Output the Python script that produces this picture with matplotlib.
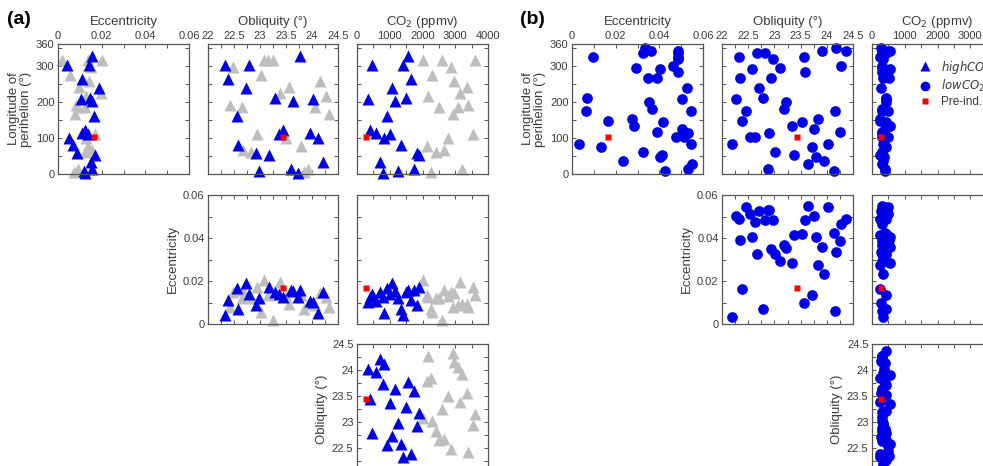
import numpy as np
import matplotlib
matplotlib.use('Agg')
import matplotlib.pyplot as plt
from matplotlib.lines import Line2D
from matplotlib.ticker import FixedLocator, MultipleLocator

plt.rcParams['font.family'] = ['Liberation Sans', 'DejaVu Sans']

# ===== Panel (a): highCO2 ensemble, blue = CO2 below ~1900 ppmv, grey = above =====
a_blue_lon = [207, 121, 301, 114, 32, 2, 100, 161, 112, 239,
              201, 8, 80, 301, 210, 327, 263, 15, 59, 52]
a_blue_ecc = [0.0104, 0.0124, 0.0140, 0.0109, 0.0149, 0.0124, 0.0050, 0.0166, 0.0138, 0.0189,
              0.0155, 0.0119, 0.0070, 0.0042, 0.0147, 0.0157, 0.0112, 0.0158, 0.0088, 0.0171]
a_blue_obl = [24.02, 23.44, 22.79, 23.96, 24.21, 23.73, 24.11, 22.55, 23.36, 22.73,
              23.64, 22.98, 22.58, 22.32, 23.29, 23.76, 22.38, 23.60, 22.92, 23.18]
a_blue_co2 = [327, 408, 459, 582, 694, 796, 827, 929, 1020, 1082,
              1163, 1255, 1347, 1398, 1510, 1551, 1663, 1735, 1837, 1888]

a_grey_lon = [317, 78, 215, 5, 275, 62, 185, 315, 66, 101,
              297, 166, 258, 185, 223, 14, 242, 192, 111, 317]
a_grey_ecc = [0.0203, 0.0137, 0.0127, 0.0072, 0.0056, 0.0122, 0.0122, 0.0020, 0.0157, 0.0130,
              0.0150, 0.0078, 0.0142, 0.0090, 0.0195, 0.0092, 0.0095, 0.0081, 0.0170, 0.0137]
a_grey_obl = [23.08, 23.79, 24.27, 23.84, 23.02, 22.82, 22.65, 23.25, 22.67, 23.50,
              22.49, 24.33, 24.15, 24.05, 23.38, 23.92, 23.55, 22.42, 22.95, 23.15]
a_grey_co2 = [2000, 2133, 2174, 2256, 2277, 2410, 2513, 2585, 2653, 2769,
              2872, 2923, 2974, 3077, 3159, 3200, 3364, 3385, 3538, 3610]

# ===== Panel (b): lowCO2 ensemble =====
b_lon = [84, 207, 325, 266, 147, 174, 102, 291, 102, 335,
         239, 210, 336, 15, 114, 267, 319, 60, 294, 180,
         200, 132, 52, 145, 325, 283, 28, 74, 125, 48,
         152, 342, 37, 82, 7, 174, 349, 117, 300, 342]
b_ecc = [0.0033, 0.0502, 0.0487, 0.0391, 0.0164, 0.0543, 0.0512, 0.0403, 0.0476, 0.0326,
         0.0527, 0.0068, 0.0484, 0.0532, 0.0532, 0.0347, 0.0484, 0.0326, 0.0293, 0.0367,
         0.0352, 0.0282, 0.0414, 0.0419, 0.0096, 0.0484, 0.0549, 0.0135, 0.0504, 0.0403,
         0.0274, 0.0360, 0.0233, 0.0543, 0.0425, 0.0062, 0.0336, 0.0388, 0.0464, 0.0487]
b_obl = [22.20, 22.27, 22.32, 22.35, 22.38, 22.45, 22.54, 22.57, 22.63, 22.66,
         22.71, 22.78, 22.82, 22.87, 22.89, 22.93, 22.98, 23.01, 23.10, 23.19,
         23.22, 23.34, 23.38, 23.52, 23.56, 23.59, 23.64, 23.72, 23.75, 23.80,
         23.84, 23.90, 23.94, 24.02, 24.13, 24.16, 24.18, 24.26, 24.27, 24.36]
b_co2 = [340, 440, 235, 520, 255, 490, 490, 540, 300, 440,
         285, 440, 300, 390, 320, 330, 337, 300, 316, 316,
         440, 540, 235, 420, 280, 316, 316, 440, 390, 370,
         255, 540, 330, 380, 390, 316, 280, 320, 316, 440]

# pre-industrial reference
pi_lon, pi_ecc, pi_obl, pi_co2 = 102.9, 0.0167, 23.44, 280

# ----- axis setup per variable -----
lims = {'lon': (0, 360), 'ecc': (0, 0.06), 'obl': (22, 24.5), 'co2': (0, 4000)}
major = {'lon': [0, 100, 200, 300, 360],
         'ecc': [0, 0.02, 0.04, 0.06],
         'obl': [22, 22.5, 23, 23.5, 24, 24.5],
         'co2': [0, 1000, 2000, 3000, 4000]}
major_lab = {'lon': ['0', '100', '200', '300', '360'],
             'ecc': ['0', '0.02', '0.04', '0.06'],
             'obl': ['22', '22.5', '23', '23.5', '24', '24.5'],
             'co2': ['0', '1000', '2000', '3000', '4000']}
minor = {'lon': 50, 'ecc': 0.01, 'obl': 0.25, 'co2': 500}
names = {'lon': 'Longitude of\nperihelion (°)', 'ecc': 'Eccentricity',
         'obl': 'Obliquity (°)', 'co2': 'CO$_2$ (ppmv)'}

row_vars = ['lon', 'ecc', 'obl']
col_vars = ['ecc', 'obl', 'co2']

W, H = 983, 466
row_px = [(44, 174), (195, 324), (344, 474)]
cols_a = [(58, 189), (208, 338), (357, 488)]
cols_b = [(572, 703), (722, 853), (872, 1003)]

BLUE = '#0000e6'
GREY = '#bebebe'
RED = '#ff0000'
TXT = '#3a3a3a'
SPINE = '#555555'


def make_ax(fig, xs, ys):
    x0, x1 = xs
    y0, y1 = ys
    return fig.add_axes([x0 / W, 1 - y1 / H, (x1 - x0) / W, (y1 - y0) / H])


def style_ax(ax, xv, yv, r, c):
    ax.set_xlim(*lims[xv])
    ax.set_ylim(*lims[yv])
    ax.xaxis.set_major_locator(FixedLocator(major[xv]))
    ax.yaxis.set_major_locator(FixedLocator(major[yv]))
    ax.set_xticklabels(major_lab[xv])
    ax.set_yticklabels(major_lab[yv])
    ax.xaxis.set_minor_locator(MultipleLocator(minor[xv]))
    ax.yaxis.set_minor_locator(MultipleLocator(minor[yv]))
    ax.tick_params(which='both', direction='in', top=True, right=True,
                   bottom=True, left=True, length=3, width=0.7,
                   color=SPINE, labelsize=8, labelcolor=TXT, pad=2.5)
    ax.tick_params(axis='x', labelbottom=False, labeltop=(r == 0))
    ax.tick_params(axis='y', labelleft=(c == r), labelright=False)
    if r == 0:
        ax.xaxis.set_label_position('top')
        ax.set_xlabel(names[xv], fontsize=9.5, color=TXT, labelpad=4)
    if c == r:
        ax.set_ylabel(names[yv], fontsize=9.5, color=TXT, labelpad=3,
                      linespacing=1.0)
    for sp in ax.spines.values():
        sp.set_color(SPINE)
        sp.set_linewidth(0.9)


fig = plt.figure(figsize=(W / 100, H / 100), dpi=100)

data_a = {
    'grey': {'lon': a_grey_lon, 'ecc': a_grey_ecc, 'obl': a_grey_obl, 'co2': a_grey_co2},
    'blue': {'lon': a_blue_lon, 'ecc': a_blue_ecc, 'obl': a_blue_obl, 'co2': a_blue_co2},
}
data_b = {'lon': b_lon, 'ecc': b_ecc, 'obl': b_obl, 'co2': b_co2}
pi = {'lon': pi_lon, 'ecc': pi_ecc, 'obl': pi_obl, 'co2': pi_co2}

axes_b = {}
for r in range(3):
    for c in range(r, 3):
        yv, xv = row_vars[r], col_vars[c]

        # panel (a): triangles
        ax = make_ax(fig, cols_a[c], row_px[r])
        ax.plot(data_a['grey'][xv], data_a['grey'][yv], '^', color=GREY,
                ms=8.5, mec='none', clip_on=False)
        ax.plot(data_a['blue'][xv], data_a['blue'][yv], '^', color=BLUE,
                ms=8.5, mec='none', clip_on=False)
        ax.plot(pi[xv], pi[yv], 's', color=RED, ms=5, mec='none', clip_on=False)
        style_ax(ax, xv, yv, r, c)

        # panel (b): circles
        ax = make_ax(fig, cols_b[c], row_px[r])
        ax.plot(data_b[xv], data_b[yv], 'o', color=BLUE, ms=7.7, mec='none',
                clip_on=False)
        ax.plot(pi[xv], pi[yv], 's', color=RED, ms=5, mec='none', clip_on=False)
        style_ax(ax, xv, yv, r, c)
        axes_b[(r, c)] = ax

# legend in panel (b), top-right axes
handles = [
    Line2D([], [], marker='^', color=BLUE, ls='none', ms=7.5, mec='none'),
    Line2D([], [], marker='o', color=BLUE, ls='none', ms=7, mec='none'),
    Line2D([], [], marker='s', color=RED, ls='none', ms=5, mec='none'),
]
labels = [r'$\it{highCO_2}$', r'$\it{lowCO_2}$', 'Pre-ind.']
axes_b[(0, 2)].legend(handles, labels, loc='upper left', bbox_to_anchor=(0.28, 0.97),
                      frameon=False, fontsize=8.5, handlelength=1.0,
                      handletextpad=0.8, labelspacing=0.2, labelcolor=TXT)

fig.text(7 / W, 1 - 20 / H, '(a)', fontsize=14, fontweight='bold', va='center')
fig.text(520 / W, 1 - 20 / H, '(b)', fontsize=14, fontweight='bold', va='center')

fig.savefig('out.png', dpi=100)
